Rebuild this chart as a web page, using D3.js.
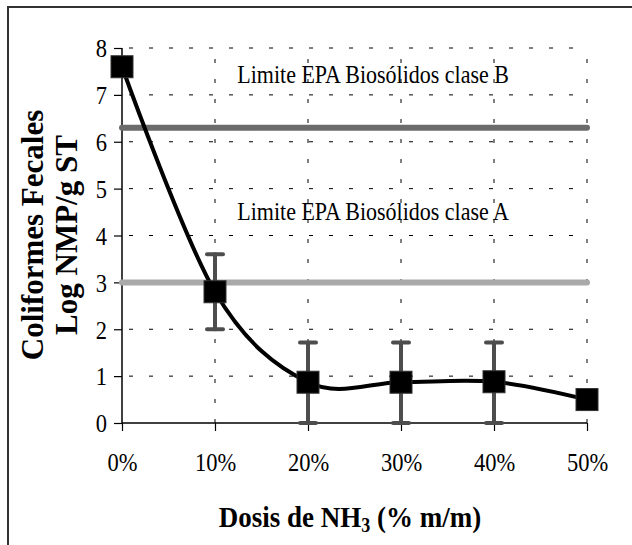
<!DOCTYPE html>
<html><head><meta charset="utf-8">
<script src="https://cdn.jsdelivr.net/npm/d3@7"></script>
<style>body{margin:0;background:#fff}svg{display:block}text{font-family:"Liberation Serif","Times New Roman",serif;fill:#000}</style>
</head><body>
<script>
const doses = [0, 10, 20, 30, 40, 50];
const logFC = [7.6, 2.8, 0.87, 0.87, 0.88, 0.5];
const errLow = [null, 2.0, 0.0, 0.0, 0.0, null];
const errHigh = [null, 3.6, 1.72, 1.72, 1.72, null];
const yTicks = [0, 1, 2, 3, 4, 5, 6, 7, 8];
const xTicks = [0, 10, 20, 30, 40, 50];
const limits = [
  {name: "Limite EPA Biosólidos clase B", value: 6.3, color: "#6b6b6b", labelValue: 7.25},
  {name: "Limite EPA Biosólidos clase A", value: 3.0, color: "#a9a9a9", labelValue: 4.33}
];

const W = 632, H = 545;
const svg = d3.select("body").append("svg").attr("width", W).attr("height", H);
svg.append("rect").attr("x", 8).attr("y", 7).attr("width", 640).attr("height", 560)
  .attr("fill", "none").attr("stroke", "#333").attr("stroke-width", 2);

const x = d3.scaleLinear().domain([0, 50]).range([122, 587]);
const y = d3.scaleLinear().domain([0, 8]).range([423, 48]);
const SX = 0.9;

// gridlines
const g = svg.append("g");
g.selectAll("line.h").data(yTicks.filter(d => d > 0)).join("line")
  .attr("x1", x(0)).attr("x2", x(50)).attr("y1", d => y(d)).attr("y2", d => y(d))
  .attr("stroke", "#000").attr("stroke-width", 1).attr("stroke-dasharray", "4,16").attr("stroke-dashoffset", -7);
g.selectAll("line.v").data(xTicks.filter(d => d > 0)).join("line")
  .attr("y1", y(0)).attr("y2", y(8)).attr("x1", d => x(d)).attr("x2", d => x(d))
  .attr("stroke", "#000").attr("stroke-width", 1).attr("stroke-dasharray", "4,16");

// axes
const yAxis = svg.append("g").attr("transform", `translate(${x(0)},0)`)
  .call(d3.axisLeft(y).tickValues(yTicks).tickSize(8).tickPadding(6).tickFormat(d3.format("d")));
yAxis.select(".domain").attr("stroke-width", 1.5).attr("d", `M0,${y(8)}V${y(0)}`);
yAxis.selectAll(".tick line").attr("stroke-width", 1.2);
yAxis.selectAll(".tick text").attr("font-size", 25).attr("font-family", "Liberation Serif")
  .attr("dy", "0.35em").attr("transform", `scale(${SX},1)`).attr("x", -15 / SX);

const xAxis = svg.append("g").attr("transform", `translate(0,${y(0)})`)
  .call(d3.axisBottom(x).tickValues(xTicks).tickSize(8).tickPadding(22).tickFormat(d => d + "%"));
xAxis.select(".domain").attr("stroke-width", 1.5).attr("d", `M${x(0)},0H${x(50)}`);
xAxis.selectAll(".tick line").attr("stroke-width", 1.2);
xAxis.selectAll(".tick text").attr("font-size", 25).attr("font-family", "Liberation Serif")
  .attr("transform", `scale(${SX},1)`);

// limit lines
limits.forEach(l => {
  svg.append("line").attr("x1", x(0)).attr("x2", x(50)).attr("y1", y(l.value)).attr("y2", y(l.value))
    .attr("stroke", l.color).attr("stroke-width", 6).attr("stroke-linecap", "round");
  svg.append("text").attr("x", 0).attr("y", y(l.labelValue) - y(l.value)).attr("text-anchor", "middle")
    .attr("font-size", 25).text(l.name)
    .attr("transform", `translate(${x(27)},${y(l.value)}) scale(0.88,1)`);
});

// error bars
const eb = doses.map((d, i) => ({d, lo: errLow[i], hi: errHigh[i]})).filter(e => e.lo !== null);
const ebg = svg.append("g").attr("stroke", "#4d4d4d").attr("stroke-width", 4).attr("stroke-linecap", "round");
eb.forEach(e => {
  ebg.append("line").attr("x1", x(e.d)).attr("x2", x(e.d)).attr("y1", y(e.lo)).attr("y2", y(e.hi));
  [e.lo, e.hi].forEach(v => ebg.append("line").attr("x1", x(e.d) - 8).attr("x2", x(e.d) + 8)
    .attr("y1", y(v)).attr("y2", y(v)));
});

// smoothed line
const line = d3.line().x((d, i) => x(doses[i])).y(d => y(d)).curve(d3.curveCardinal.tension(0));
svg.append("path").datum(logFC).attr("d", line).attr("fill", "none")
  .attr("stroke", "#000").attr("stroke-width", 4);

// markers
svg.selectAll("rect.m").data(logFC).join("rect")
  .attr("x", (d, i) => x(doses[i]) - 11).attr("y", d => y(d) - 11)
  .attr("width", 22).attr("height", 22).attr("fill", "#000").attr("stroke", "#333").attr("stroke-width", 1);

// axis titles
svg.append("text").attr("transform", `translate(43,235) rotate(-90)`)
  .attr("text-anchor", "middle").attr("font-weight", "bold").attr("font-size", 31).text("Coliformes Fecales");
svg.append("text").attr("transform", `translate(77,235) rotate(-90)`)
  .attr("text-anchor", "middle").attr("font-weight", "bold").attr("font-size", 31).text("Log NMP/g ST");

const xt = svg.append("text").attr("transform", `translate(350,527) scale(${SX},1)`)
  .attr("text-anchor", "middle").attr("font-weight", "bold").attr("font-size", 30);
xt.append("tspan").text("Dosis de NH");
xt.append("tspan").attr("font-size", 20).attr("dy", 5).text("3");
xt.append("tspan").attr("dy", -5).text(" (% m/m)");
</script>
</body></html>
